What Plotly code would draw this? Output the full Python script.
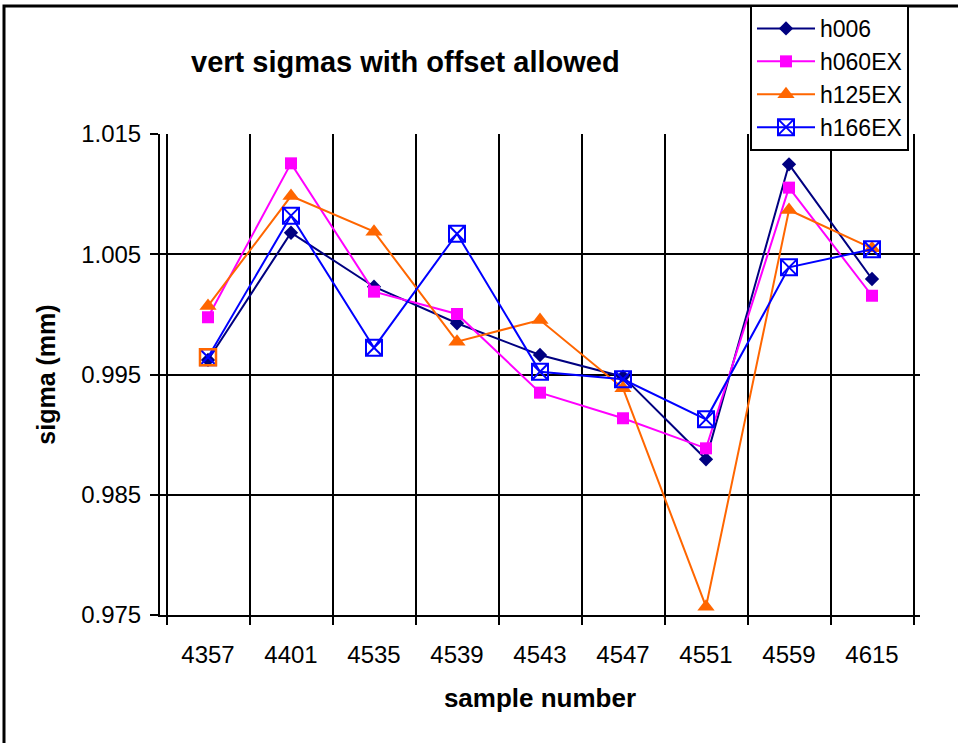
import plotly.graph_objects as go

# Sample numbers along the category axis
samples = ["4357", "4401", "4535", "4539", "4543", "4547", "4551", "4559", "4615"]

# Vertical sigma (mm) for each fit, offset allowed
h006 = [0.99621, 1.00679, 1.00230, 0.99926, 0.99662, 0.99482, 0.98795, 1.01248, 1.00294]
h060EX = [0.99976, 1.01256, 1.00189, 1.00003, 0.99349, 0.99136, 0.98886, 1.01054, 1.00155]
h125EX = [1.00070, 1.00984, 1.00688, 0.99773, 0.99953, 0.99385, 0.97569, 1.00868, 1.00549]
h166EX = [0.99643, 1.00821, 0.99723, 1.00671, 0.99523, 0.99460, 0.99127, 1.00391, 1.00541]

y_ticks = [0.975, 0.985, 0.995, 1.005, 1.015]

FONT = "Liberation Sans, Arial, sans-serif"

fig = go.Figure()

fig.add_trace(go.Scatter(
    x=samples, y=h006, name="h006", mode="lines+markers",
    line=dict(color="#000080", width=2),
    marker=dict(symbol="diamond", size=11, color="#000080"),
))
fig.add_trace(go.Scatter(
    x=samples, y=h060EX, name="h060EX", mode="lines+markers",
    line=dict(color="#FF00FF", width=2),
    marker=dict(symbol="square", size=12, color="#FF00FF"),
))
fig.add_trace(go.Scatter(
    x=samples, y=h125EX, name="h125EX", mode="lines+markers",
    line=dict(color="#FF6600", width=2),
    marker=dict(symbol="triangle-up", size=15, color="#FF6600"),
))
fig.add_trace(go.Scatter(
    x=samples, y=h166EX, name="h166EX", mode="lines+markers",
    line=dict(color="#0000FF", width=2),
    marker=dict(symbol="square-x-open", size=16, color="#0000FF",
                line=dict(width=2)),
))
# first h166EX point carries an orange frame
fig.add_trace(go.Scatter(
    x=samples[:1], y=h166EX[:1], mode="markers", showlegend=False,
    hoverinfo="skip",
    marker=dict(symbol="square-open", size=16, color="#FF6600",
                line=dict(width=2.5)),
))

fig.update_layout(
    width=958, height=743,
    margin=dict(l=160, r=38, t=134, b=128, autoexpand=False),
    paper_bgcolor="white", plot_bgcolor="white",
    font=dict(family=FONT, color="black", size=24),
    showlegend=True,
    legend=dict(
        x=(750 - 160) / 760, y=(615 - 5) / 481,
        xanchor="left", yanchor="top",
        bgcolor="white", bordercolor="black", borderwidth=2,
        font=dict(size=23, family=FONT),
        tracegroupgap=0, itemsizing="trace", itemwidth=58,
    ),
    annotations=[dict(
        text="<b>vert sigmas with offset allowed</b>",
        xref="paper", yref="paper",
        x=(405 - 160) / 760, y=(615 - 62) / 481,
        xanchor="center", yanchor="middle", showarrow=False,
        font=dict(size=29, family=FONT),
    )],
    shapes=[dict(
        type="rect", xref="paper", yref="paper",
        x0=(4 - 160) / 760, x1=(970 - 160) / 760,
        y0=(615 - 760) / 481, y1=(615 - 6) / 481,
        line=dict(color="black", width=3), fillcolor="rgba(0,0,0,0)",
        layer="below",
    )],
)

fig.update_xaxes(
    type="category", tickson="boundaries",
    showgrid=True, gridcolor="black", gridwidth=1.5,
    showline=True, linecolor="black", linewidth=2,
    ticks="outside", ticklen=8, tickwidth=1.5, tickcolor="black",
    ticklabelstandoff=17,
    tickfont=dict(size=24, family=FONT),
    title=dict(text="<b>sample number</b>", font=dict(size=26, family=FONT),
               standoff=22),
)
fig.update_yaxes(
    range=[0.975, 1.015], tickvals=y_ticks, tickformat=".3f",
    showgrid=True, gridcolor="black", gridwidth=2,
    zeroline=False,
    showline=True, linecolor="black", linewidth=2,
    ticks="outside", ticklen=8, tickwidth=1.5, tickcolor="black",
    ticklabelstandoff=4,
    tickfont=dict(size=24, family=FONT),
    title=dict(text="<b>sigma (mm)</b>", font=dict(size=25, family=FONT),
               standoff=18),
)

fig.write_html("out.html")
